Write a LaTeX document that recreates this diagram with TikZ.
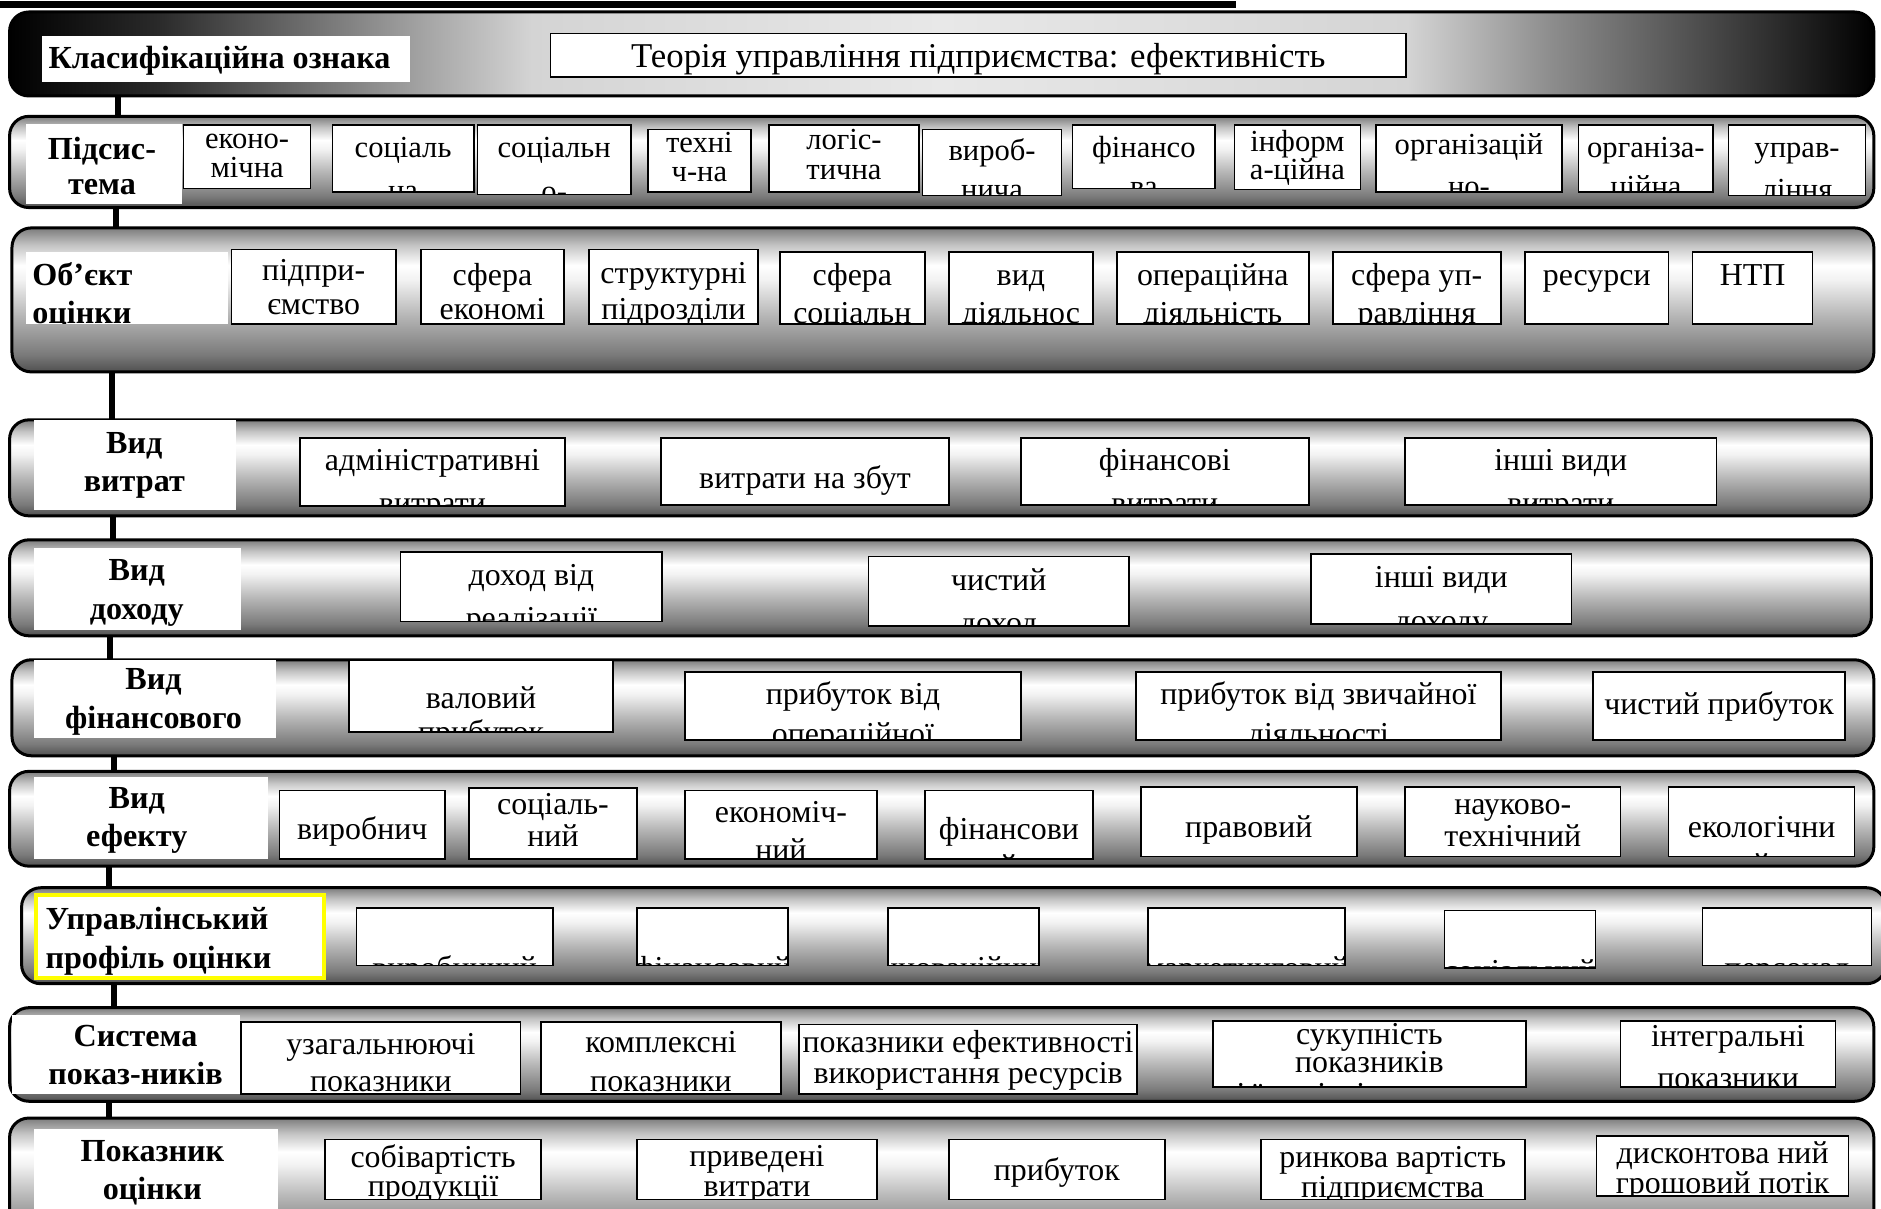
\documentclass[tikz,border=0pt]{standalone}
\usepackage{fontspec}
\setmainfont{Liberation Serif}
\usetikzlibrary{calc}
\definecolor{cb0}{HTML}{505050}
\definecolor{cb1}{HTML}{7A7A7A}
\definecolor{cb2}{HTML}{B8B8B8}
\definecolor{cb3}{HTML}{F2F2F2}
\definecolor{cb4}{HTML}{C4C4C4}
\definecolor{cb5}{HTML}{7C7C7C}
\definecolor{dk1}{HTML}{2A2A2A}
\definecolor{dk2}{HTML}{9A9A9A}
\definecolor{dk3}{HTML}{D4D4D4}
\definecolor{dk4}{HTML}{E8E8E8}
\definecolor{dk5}{HTML}{8A8A8A}
\definecolor{ylw}{HTML}{FFFF00}
\pgfdeclareverticalshading{chromeband}{100bp}{color(0bp)=(cb0); color(25bp)=(cb0); color(31bp)=(cb1); color(45bp)=(cb2); color(57bp)=(cb3); color(62bp)=(white); color(69bp)=(cb4); color(75bp)=(cb5); color(100bp)=(cb5)}
\pgfdeclarehorizontalshading{darkband}{100bp}{color(0bp)=(black); color(25bp)=(black); color(29bp)=(dk1); color(35.5bp)=(dk2); color(39bp)=(dk3); color(50bp)=(dk4); color(62.5bp)=(dk3); color(66.5bp)=(dk5); color(72.5bp)=(dk1); color(75bp)=(black); color(100bp)=(black)}
\def\fs{26.6}
\def\lfs{26.8}
\def\lbsp{32}
\tikzset{
  bandst/.style={draw=black, line width=2.5pt, rounded corners=16pt, inner sep=0pt, outer sep=0pt, anchor=north west},
  boxfill/.style={fill=white, inner sep=0pt, outer sep=0pt},
  boxline/.style={draw=black, line width=1.3pt},
  labfill/.style={fill=white, inner sep=0pt, outer sep=0pt},
  txt/.style={inner sep=0pt, outer sep=0pt, font=\fontsize{\fs}{\fs}\selectfont},
  labtxt/.style={inner sep=0pt, outer sep=0pt, font=\fontsize{\lfs}{\lfs}\selectfont\bfseries},
  labalign/.style={anchor=base},
  conn/.style={line width=5pt, draw=black},
  yframe/.style={draw=ylw, line width=3pt}
}
\newcommand\myband[6]{\node[bandst, shading=#6, minimum width={(#4-#2)*1pt}, minimum height={(#5-#3)*1pt}] (#1) at (#2,#3) {};}
\newcommand\mybox[9]{%
  \node[boxfill, anchor=north west, minimum width={(#4-#2)*1pt}, minimum height={(#5-#3)*1pt}] (#1) at (#2,#3) {};
  \begin{scope}
    \clip (#1.south west) rectangle (#1.north east);
    \node[txt, anchor=base] (#1a) at ({(#2+#4)/2},#6) {#8};
    \node[txt, anchor=base] (#1b) at ({(#2+#4)/2},#7) {#9};
  \end{scope}
  \draw[boxline] (#1.south west) rectangle (#1.north east);}
\newcommand\mylab[9]{%
  \node[labfill, anchor=north west, minimum width={(#4-#2)*1pt}, minimum height={(#5-#3)*1pt}] (#1) at (#2,#3) {};
  \begin{scope}
    \clip (#1.south west) rectangle (#1.north east);
    \node[labtxt, labalign] (#1a) at (#6,#7) {#8};
    \node[labtxt, labalign] (#1b) at (#6,{#7+\lbsp}) {#9};
  \end{scope}}
\begin{document}
\begin{tikzpicture}[x=1pt, y=-1pt]
\fill[white] (0,0) rectangle (1568,1007);
\useasboundingbox (0,0) rectangle (1568,1007);
% top rule
\node[fill=black, inner sep=0pt, outer sep=0pt, anchor=north west, minimum width=1030pt, minimum height=6pt] (topbar) at (0,1) {};
\draw[line width=1pt] (topbar.south west) ++(0,-2) -- ++(1030,0);
% connector positions
\coordinate (k1) at (98,0);
\coordinate (k2) at (97,0);
\coordinate (k3) at (93,0);
\coordinate (k4) at (94,0);
\coordinate (k5) at (92,0);
\coordinate (k6) at (95,0);
\coordinate (k7) at (91,0);
\coordinate (k8) at (95,0);
\coordinate (k9) at (91,0);
% bands
\myband{B1}{8}{10}{1562}{80}{darkband}
\myband{B2}{8}{97}{1562}{173}{chromeband}
\myband{B3}{10}{190}{1562}{310}{chromeband}
\myband{B4}{8}{350}{1560}{430}{chromeband}
\myband{B5}{8}{450}{1560}{530}{chromeband}
\myband{B6}{10}{550}{1562}{630}{chromeband}
\myband{B7}{8}{643}{1562}{722}{chromeband}
\myband{B8}{18}{740}{1572}{820}{chromeband}
\myband{B9}{8}{840}{1562}{918}{chromeband}
\myband{B10}{8}{932}{1562}{1040}{chromeband}
% connectors
\draw[conn] (B1.south -| k1) -- (B2.north -| k1);
\draw[conn] (B2.south -| k2) -- (B3.north -| k2);
\draw[conn] (B3.south -| k3) -- (B4.north -| k3);
\draw[conn] (B4.south -| k4) -- (B5.north -| k4);
\draw[conn] (B5.south -| k5) -- (B6.north -| k5);
\draw[conn] (B6.south -| k6) -- (B7.north -| k6);
\draw[conn] (B7.south -| k7) -- (B8.north -| k7);
\draw[conn] (B8.south -| k8) -- (B9.north -| k8);
\draw[conn] (B9.south -| k9) -- (B10.north -| k9);
% row 1
\mylab{L1}{35}{30}{342}{68}{183}{57}{Класифікаційна ознака}{}
\def\fs{29}
\mybox{T}{459}{28}{1172}{64}{56}{0}{Теорія управління підприємства: ефективність}{}
% row 2
\def\lbsp{29}
\mylab{L2}{22}{103}{152}{170}{85}{133}{Підсис-}{тема}
\def\lbsp{32}
\def\fs{25.5}
\mybox{s1}{153}{104}{259}{157}{124}{148}{еконо-}{мічна}
\mybox{s2}{277}{104}{395}{160}{131}{167}{соціаль}{на}
\mybox{s3}{398}{104}{526}{162}{131}{168}{соціальн}{о-}
\mybox{s4}{540}{108}{626}{160}{127}{151}{техні}{ч-на}
\mybox{s5}{641}{104}{766}{160}{125}{150}{логіс-}{тична}
\mybox{s6}{769}{108}{885}{163}{134}{166}{вироб-}{нича}
\mybox{s7}{894}{104}{1013}{157}{131}{164}{фінансо}{ва}
\mybox{s8}{1029}{104}{1134}{158}{126}{150}{інформ}{а-ційна}
\mybox{s9}{1147}{104}{1302}{160}{129}{164}{організацій}{но-}
\mybox{s10}{1316}{104}{1428}{160}{131}{164}{організа-}{ційна}
\mybox{s11}{1441}{104}{1555}{163}{131}{166}{управ-}{ління}
% row 3
\def\fs{26.6}
\tikzset{labalign/.style={anchor=base west}}
\mylab{L3}{22}{210}{190}{270}{27}{238}{Об’єкт}{оцінки}
\tikzset{labalign/.style={anchor=base}}
\mybox{o1}{193}{208}{330}{270}{234}{262}{підпри-}{ємство}
\mybox{o2}{351}{208}{470}{270}{238}{266}{сфера}{економі}
\mybox{o3}{491}{208}{632}{270}{236}{266}{структурні}{підрозділи}
\mybox{o4}{650}{210}{771}{270}{238}{270}{сфера}{соціальн}
\mybox{o5}{791}{210}{911}{270}{238}{270}{вид}{діяльнос}
\mybox{o6}{931}{210}{1091}{270}{238}{270}{операційна}{діяльність}
\mybox{o7}{1111}{210}{1251}{270}{238}{270}{сфера уп-}{равління}
\mybox{o8}{1271}{210}{1391}{270}{238}{0}{ресурси}{}
\mybox{o9}{1411}{210}{1511}{270}{238}{0}{НТП}{}
% row 4
\mylab{L4}{28}{350}{197}{425}{112}{378}{Вид}{витрат}
\mybox{v1}{250}{365}{471}{422}{392}{428}{адміністративні}{витрати}
\mybox{v2}{551}{365}{791}{421}{407}{0}{витрати на збут}{}
\mybox{v3}{851}{365}{1091}{421}{392}{428}{фінансові}{витрати}
\mybox{v4}{1171}{365}{1431}{421}{392}{428}{інші види}{витрати}
% row 5
\mylab{L5}{28}{457}{201}{525}{114}{484}{Вид}{доходу}
\mybox{d1}{334}{460}{552}{518}{488}{524}{доход від}{реалізації}
\mybox{d2}{724}{464}{941}{522}{492}{528}{чистий}{доход}
\mybox{d3}{1093}{462}{1310}{520}{490}{526}{інші види}{доходу}
% row 6
\mylab{L6}{28}{550}{230}{615}{128}{575}{Вид}{фінансового}
\mybox{f1}{291}{550}{511}{610}{591}{619}{валовий}{прибуток}
\mybox{f2}{571}{560}{851}{617}{587}{621}{прибуток від}{операційної}
\mybox{f3}{947}{560}{1251}{617}{587}{621}{прибуток від звичайної}{діяльності}
\mybox{f4}{1328}{560}{1538}{617}{596}{0}{чистий прибуток}{}
% row 7
\mylab{L7}{28}{648}{223}{716}{114}{674}{Вид}{ефекту}
\mybox{e1}{233}{659}{371}{716}{700}{0}{виробнич}{}
\mybox{e2}{391}{657}{531}{716}{679}{706}{соціаль-}{ний}
\mybox{e3}{571}{659}{731}{716}{686}{717}{економіч-}{ний}
\mybox{e4}{771}{659}{911}{716}{700}{731}{фінансови}{й}
\mybox{e5}{951}{656}{1131}{714}{698}{0}{правовий}{}
\mybox{e6}{1171}{656}{1351}{714}{679}{706}{науково-}{технічний}
\mybox{e7}{1391}{656}{1546}{714}{698}{730}{екологічни}{й}
% row 8
\tikzset{labalign/.style={anchor=base west}}
\mylab{L8}{30}{746}{270}{815}{38}{775}{Управлінський}{профіль оцінки}
\tikzset{labalign/.style={anchor=base}}
\draw[yframe] (L8.south west) rectangle (L8.north east);
\mybox{m1}{297}{757}{461}{805}{816}{0}{виробничий}{}
\mybox{m2}{531}{757}{657}{805}{816}{0}{фінансовий}{}
\mybox{m3}{740}{757}{866}{805}{816}{0}{інноваційний}{}
\mybox{m4}{957}{757}{1121}{805}{816}{0}{маркетинговий}{}
\mybox{m5}{1204}{759}{1330}{807}{818}{0}{соціальний}{}
\mybox{m6}{1419}{757}{1560}{805}{816}{0}{персонал}{}
% row 9
\mylab{L9}{10}{846}{200}{912}{113}{872}{Система}{показ-ників}
\mybox{p1}{201}{852}{434}{912}{879}{910}{узагальнюючі}{показники}
\mybox{p2}{451}{852}{651}{912}{877}{910}{комплексні}{показники}
\mybox{p3}{666}{854}{948}{912}{877}{903}{показники ефективності}{використання ресурсів}
\mybox{p4}{1011}{851}{1272}{906}{871}{894}{сукупність}{показників}
\begin{scope}
  \clip (p4.south west) rectangle (p4.north east);
  \node[txt, anchor=base] (p4c) at (1141.5,921) {і їх співвідношення};
\end{scope}
\draw[boxline] (p4.south west) rectangle (p4.north east);
\mybox{p5}{1351}{851}{1530}{906}{872}{907}{інтегральні}{показники}
% row 10
\mylab{L10}{28}{941}{232}{1010}{127}{968}{Показник}{оцінки}
\mybox{q1}{271}{950}{451}{1000}{973}{997}{собівартість}{продукції}
\mybox{q2}{531}{950}{731}{1000}{972}{997}{приведені}{витрати}
\mybox{q3}{791}{950}{971}{1000}{984}{0}{прибуток}{}
\mybox{q4}{1051}{950}{1271}{1000}{973}{998}{ринкова вартість}{підприємства}
\mybox{q5}{1331}{947}{1541}{997}{970}{995}{дисконтова ний}{грошовий потік}
\end{tikzpicture}
\end{document}
